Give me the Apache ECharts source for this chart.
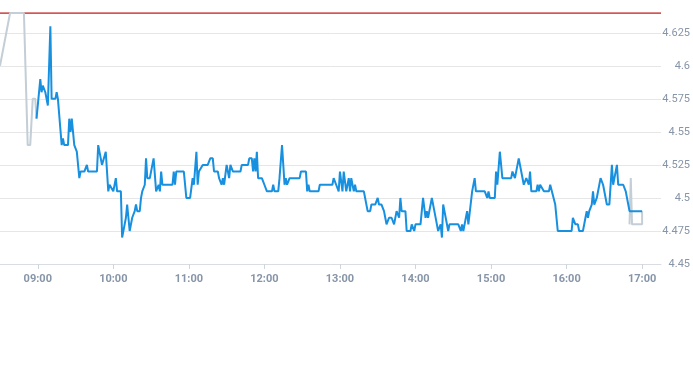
<!DOCTYPE html>
<html>
<head>
<meta charset="utf-8">
<script src="https://cdn.jsdelivr.net/npm/echarts@6/dist/echarts.min.js"></script>
<style>html,body{margin:0;padding:0;background:#fff}#c{width:693px;height:365px}</style>
</head>
<body>
<div id="c"></div>
<script>
// time in minutes since midnight
var preMarket = [[510,4.6],[518,4.64],[529,4.64],[532,4.54],[534,4.54],[536,4.575],[538,4.575],[539,4.56]];
var postMarket = [[1010,4.48],[1011,4.515],[1012,4.48],[1020,4.48],[1020,4.49]];
var session = [
[539,4.56],[542,4.59],[543,4.58],[544,4.585],[546,4.58],[547,4.58],[548,4.57],[550,4.63],[551,4.575],[554,4.575],[555,4.58],[556,4.575],
[559,4.54],[560,4.545],[561,4.54],[564,4.54],[565,4.56],[566,4.55],[567,4.56],[569,4.54],[570,4.54],[571,4.535],[573,4.515],[574,4.52],
[577,4.52],[579,4.525],[580,4.52],[587,4.52],[588,4.54],[591,4.525],[594,4.535],[596,4.505],[597,4.51],[598,4.51],[600,4.505],[602,4.515],
[603,4.505],[606,4.505],[607,4.47],[608,4.47],[610,4.485],[611,4.495],[612,4.485],[613,4.475],[615,4.485],[617,4.49],[618,4.495],[619,4.49],
[621,4.49],[622,4.5],[623,4.505],[625,4.51],[626,4.53],[627,4.515],[629,4.515],[631,4.525],[632,4.53],[634,4.505],[636,4.51],[637,4.505],
[638,4.52],[639,4.51],[647,4.51],[648,4.52],[649,4.51],[650,4.52],[656,4.52],[658,4.5],[661,4.5],[663,4.515],[664,4.51],[666,4.535],
[667,4.51],[668,4.52],[671,4.525],[675,4.525],[677,4.53],[679,4.53],[680,4.52],[683,4.52],[684,4.515],[686,4.51],[687,4.515],[688,4.51],
[690,4.525],[691,4.52],[692,4.515],[693,4.525],[695,4.52],[701,4.52],[702,4.525],[707,4.525],[708,4.53],[710,4.53],[711,4.52],[712,4.53],
[713,4.52],[714,4.535],[715,4.515],[718,4.515],[720,4.51],[722,4.505],[726,4.505],[727,4.51],[728,4.505],[731,4.505],[732,4.515],[734,4.54],
[736,4.51],[737,4.515],[738,4.51],[740,4.515],[748,4.515],[749,4.52],[753,4.52],[754,4.505],[755,4.51],[756,4.505],[763,4.505],[764,4.51],
[766,4.51],[774,4.51],[775,4.515],[777,4.51],[779,4.505],[780,4.52],[782,4.505],[783,4.52],[785,4.505],[787,4.515],[788,4.505],[789,4.515],
[791,4.505],[792,4.51],[793,4.505],[799,4.505],[800,4.5],[802,4.49],[804,4.49],[805,4.495],[808,4.495],[810,4.5],[811,4.495],[813,4.495],
[815,4.49],[816,4.485],[817,4.48],[819,4.485],[821,4.485],[823,4.48],[825,4.49],[827,4.485],[828,4.5],[829,4.49],[832,4.49],[833,4.475],
[836,4.475],[837,4.48],[839,4.475],[840,4.48],[844,4.48],[846,4.5],[848,4.485],[849,4.49],[850,4.485],[853,4.5],[855,4.49],[857,4.48],
[858,4.475],[860,4.48],[861,4.47],[862,4.495],[864,4.485],[866,4.475],[867,4.48],[874,4.48],[876,4.475],[877,4.48],[878,4.475],[879,4.48],
[881,4.49],[882,4.48],[883,4.48],[885,4.505],[887,4.515],[888,4.505],[895,4.505],[897,4.5],[898,4.505],[899,4.5],[903,4.5],[904,4.52],
[905,4.51],[907,4.535],[909,4.515],[916,4.515],[917,4.52],[919,4.515],[922,4.53],[924,4.52],[926,4.51],[928,4.515],[930,4.51],[931,4.52],
[932,4.505],[936,4.505],[937,4.51],[938,4.505],[939,4.51],[940,4.51],[942,4.505],[946,4.505],[947,4.51],[948,4.51],[951,4.495],[952,4.495],
[953,4.475],[964,4.475],[965,4.485],[967,4.48],[969,4.48],[970,4.475],[973,4.475],[975,4.485],[976,4.49],[977,4.485],[978,4.49],[980,4.495],
[981,4.505],[982,4.495],[984,4.5],[986,4.51],[987,4.515],[989,4.51],[990,4.51],[992,4.495],[994,4.495],[996,4.525],[997,4.51],[998,4.51],
[1000,4.525],[1001,4.51],[1005,4.51],[1007,4.505],[1009,4.495],[1010,4.49],[1020,4.49]
];
var xTicks = [540,600,660,720,780,840,900,960,1020];
var xMin = 510, xMax = 1035;
var refLine = 4.64;
var refData = [[xMin, refLine], [xMax, refLine]];

function fmt(v){var h=Math.floor(v/60),m=Math.round(v%60);return (h<10?'0':'')+h+':'+(m<10?'0':'')+m;}

var chart = echarts.init(document.getElementById('c'));
chart.setOption({
  animation:false,
  grid:{left:0,right:30,top:13,bottom:101,containLabel:false},
  xAxis:{type:'value',min:xMin,max:xMax,
    axisLine:{lineStyle:{color:'#d9dde2'}},
    axisTick:{show:true,length:5,lineStyle:{color:'#d0d5db'},customValues:xTicks},
    axisLabel:{customValues:xTicks,formatter:fmt,color:'#8795a8',fontSize:11,fontWeight:'bold',margin:10,fontFamily:'Roboto, sans-serif'},
    splitLine:{show:false}},
  yAxis:{type:'value',position:'right',min:4.45,max:4.64,interval:0.025,
    axisLine:{show:false},axisTick:{show:false},
    axisLabel:{showMaxLabel:false,align:'right',margin:29,color:'#8795a8',fontSize:11,fontFamily:'Roboto, sans-serif',
      formatter:function(v){return String(+v.toFixed(3));}},
    splitLine:{lineStyle:{color:'#e6e6e6'}}},
  series:[
    {type:'line',data:refData,showSymbol:false,silent:true,lineStyle:{color:'#c62828',width:1.5},itemStyle:{color:'#c62828'},z:1},
    {type:'line',data:preMarket,showSymbol:false,lineStyle:{color:'#c3ced6',width:2},itemStyle:{color:'#c3ced6'},z:2},
    {type:'line',data:postMarket,showSymbol:false,lineStyle:{color:'#c3ced6',width:2},itemStyle:{color:'#c3ced6'},z:2},
    {type:'line',data:session,showSymbol:false,lineStyle:{color:'#1890e0',width:2},itemStyle:{color:'#1890e0'},z:3}
  ]
});
</script>
</body>
</html>
